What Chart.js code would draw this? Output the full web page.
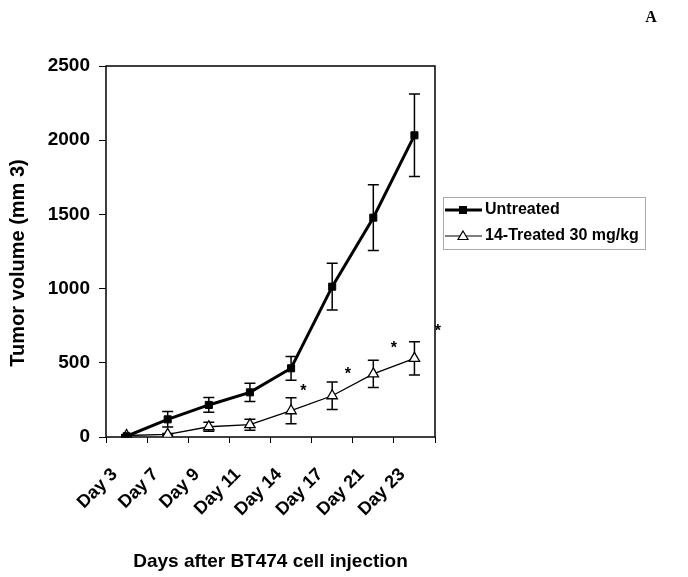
<!DOCTYPE html>
<html>
<head>
<meta charset="utf-8">
<script src="https://cdn.jsdelivr.net/npm/chart.js@4/dist/chart.umd.min.js"></script>
<style>
html, body { margin: 0; padding: 0; background: #fff; }
#wrap { width: 688px; height: 577px; position: relative; }
</style>
</head>
<body>
<div id="wrap"><canvas id="grafico"></canvas></div>
<script>
const dias = ['Day 3', 'Day 7', 'Day 9', 'Day 11', 'Day 14', 'Day 17', 'Day 21', 'Day 23'];
const untreated = [5, 119, 216, 301, 463, 1013, 1478, 2033];
const untreatedErr = [8, 52, 50, 62, 80, 157, 222, 278];
const treated = [10, 18, 69, 83, 177, 278, 425, 530];
const treatedErr = [5, 6, 30, 37, 88, 92, 92, 112];
// asteriscos de significancia (posicao em indice de categoria, valor)
const asteriscoX = [4.3, 5.38, 6.5, 7.57];
const asteriscoY = [330, 445, 620, 735];
const yTicks = [0, 500, 1000, 1500, 2000, 2500];

const FONTE = 'Arial, "Liberation Sans", sans-serif';

const barrasErro = {
    id: 'barrasErro',
    beforeDatasetsDraw(chart) {
        const { ctx, chartArea, scales: { x, y } } = chart;
        ctx.save();
        // moldura do grafico
        ctx.strokeStyle = '#000';
        ctx.lineWidth = 1.5;
        ctx.strokeRect(chartArea.left, chartArea.top, chartArea.right - chartArea.left, chartArea.bottom - chartArea.top);

        const series = [[untreated, untreatedErr], [treated, treatedErr]];
        ctx.lineWidth = 1.5;
        series.forEach(([vals, errs]) => {
            vals.forEach((v, i) => {
                const px = x.getPixelForValue(i);
                const topo = y.getPixelForValue(v + errs[i]);
                const base = y.getPixelForValue(Math.max(0, v - errs[i]));
                ctx.beginPath();
                ctx.moveTo(px, topo); ctx.lineTo(px, base);
                ctx.moveTo(px - 5.5, topo); ctx.lineTo(px + 5.5, topo);
                ctx.moveTo(px - 5.5, base); ctx.lineTo(px + 5.5, base);
                ctx.stroke();
            });
        });
        ctx.restore();
    },
    afterDraw(chart) {
        const { ctx, scales: { x, y } } = chart;
        ctx.save();
        ctx.fillStyle = '#000';
        ctx.font = 'bold 16px ' + FONTE;
        ctx.textAlign = 'center';
        ctx.textBaseline = 'middle';
        asteriscoX.forEach((ix, k) => {
            ctx.fillText('*', x.getPixelForValue(ix), y.getPixelForValue(asteriscoY[k]) + 4);
        });

        // titulo do eixo y (desenhado a mao para acertar a altura)
        ctx.save();
        ctx.translate(18, 263);
        ctx.rotate(-Math.PI / 2);
        ctx.font = 'bold 20px ' + FONTE;
        ctx.fillText('Tumor volume (mm 3)', 0, 0);
        ctx.restore();

        // legenda
        ctx.strokeStyle = '#aaa';
        ctx.lineWidth = 1;
        ctx.strokeRect(443.5, 197.5, 202, 52);
        ctx.strokeStyle = '#000';
        ctx.lineWidth = 3;
        ctx.beginPath(); ctx.moveTo(445, 210); ctx.lineTo(482, 210); ctx.stroke();
        ctx.fillStyle = '#000';
        ctx.fillRect(459, 206, 8, 8);
        ctx.lineWidth = 1.2;
        ctx.beginPath(); ctx.moveTo(445, 236); ctx.lineTo(482, 236); ctx.stroke();
        ctx.beginPath();
        ctx.moveTo(463, 231); ctx.lineTo(468, 239.5); ctx.lineTo(458, 239.5); ctx.closePath();
        ctx.fillStyle = '#fff'; ctx.fill(); ctx.stroke();
        ctx.fillStyle = '#000';
        ctx.font = 'bold 16px ' + FONTE;
        ctx.textAlign = 'left';
        ctx.fillText('Untreated', 485, 210);
        ctx.fillText('14-Treated 30 mg/kg', 485, 236);

        ctx.font = 'bold 16px "Liberation Serif", "Times New Roman", serif';
        ctx.textAlign = 'center';
        ctx.fillText('A', 651, 18);
        ctx.restore();
    }
};

const ctx = document.getElementById('grafico').getContext('2d');

new Chart(ctx, {
    type: 'line',
    data: {
        labels: dias,
        datasets: [{
            label: 'Untreated',
            data: untreated,
            borderColor: '#000',
            backgroundColor: '#000',
            borderWidth: 3,
            pointStyle: 'rect',
            pointRadius: 5,
            pointBorderWidth: 1,
            tension: 0
        }, {
            label: '14-Treated 30 mg/kg',
            data: treated,
            borderColor: '#000',
            backgroundColor: '#fff',
            borderWidth: 1.3,
            pointStyle: 'triangle',
            pointRadius: 6,
            pointBorderWidth: 1.3,
            tension: 0
        }]
    },
    options: {
        responsive: true,
        maintainAspectRatio: false,
        animation: false,
        layout: { padding: { left: 0, top: 66, right: 253, bottom: 0 } },
        plugins: {
            legend: { display: false },
            tooltip: { enabled: false }
        },
        scales: {
            x: {
                offset: true,
                border: { display: false },
                grid: { display: true, drawOnChartArea: false, drawTicks: true, tickLength: 6, color: '#000', offset: true },
                ticks: {
                    color: '#000',
                    font: { family: FONTE, size: 18, weight: 'bold' },
                    maxRotation: 45,
                    minRotation: 45,
                    autoSkip: false,
                    padding: 21,
                    labelOffset: -12
                },
                title: {
                    display: true,
                    text: 'Days after BT474 cell injection',
                    color: '#000',
                    font: { family: FONTE, size: 19, weight: 'bold' },
                    padding: { top: 0, bottom: 4 }
                },
                afterFit(scale) { scale.height = 140; }
            },
            y: {
                min: 0,
                max: 2500,
                border: { display: false },
                afterBuildTicks(scale) { scale.ticks = yTicks.map(v => ({ value: v })); },
                grid: { display: true, drawOnChartArea: false, drawTicks: true, tickLength: 7, color: '#000' },
                ticks: {
                    color: '#000',
                    font: { family: FONTE, size: 19, weight: 'bold' },
                    padding: 9,
                    callback: v => String(v)
                },
                afterFit(scale) { scale.width = 106; }
            }
        }
    },
    plugins: [barrasErro]
});
</script>
</body>
</html>
